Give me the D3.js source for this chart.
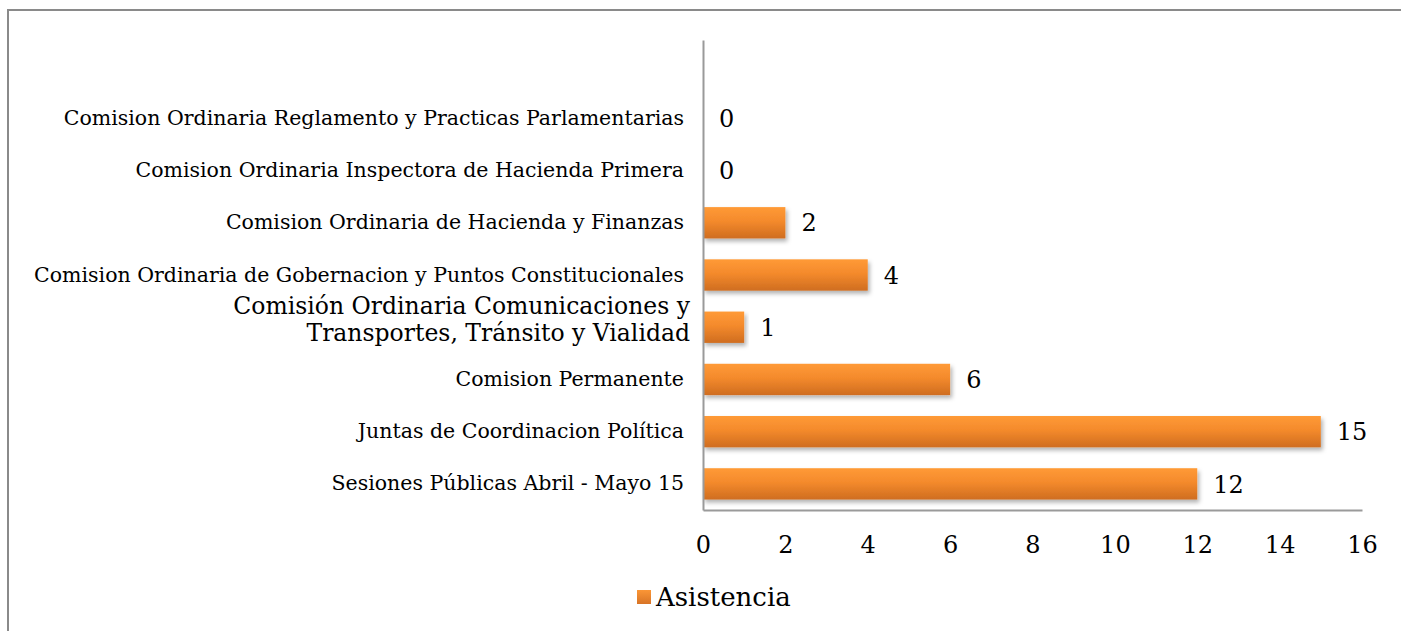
<!DOCTYPE html>
<html>
<head>
<meta charset="utf-8">
<script src="https://cdn.jsdelivr.net/npm/d3@7"></script>
<style>
  body { margin: 0; background: #fff; }
  svg { display: block; font-family: "DejaVu Serif", serif; }
</style>
</head>
<body>
<div id="chart"></div>
<script>
// top category is empty, the rest read top -> bottom
const categories = [
    "",
    "Comision Ordinaria Reglamento y Practicas Parlamentarias",
    "Comision Ordinaria Inspectora de Hacienda Primera",
    "Comision Ordinaria de Hacienda y Finanzas",
    "Comision Ordinaria de Gobernacion y Puntos Constitucionales",
    "Comisión Ordinaria Comunicaciones y Transportes, Tránsito y Vialidad",
    "Comision Permanente",
    "Juntas de Coordinacion Política",
    "Sesiones Públicas Abril - Mayo 15"
];
const asistencia = [null, 0, 0, 2, 4, 1, 6, 15, 12];
const xTicks = [0, 2, 4, 6, 8, 10, 12, 14, 16];
const seriesName = "Asistencia";

const width = 1401, height = 631;
const plot = { left: 703, right: 1362, top: 40, bottom: 510 };

const svg = d3.select("#chart").append("svg")
    .attr("width", width)
    .attr("height", height);

const defs = svg.append("defs");
const grad = defs.append("linearGradient")
    .attr("id", "barGrad")
    .attr("x1", 0).attr("y1", 0).attr("x2", 0).attr("y2", 1);
grad.append("stop").attr("offset", "0%").attr("stop-color", "#ff9a36");
grad.append("stop").attr("offset", "45%").attr("stop-color", "#f48a2c");
grad.append("stop").attr("offset", "100%").attr("stop-color", "#cf6d20");

const legGrad = defs.append("linearGradient")
    .attr("id", "legGrad")
    .attr("x1", 0).attr("y1", 0).attr("x2", 0).attr("y2", 1);
legGrad.append("stop").attr("offset", "0%").attr("stop-color", "#fb9636");
legGrad.append("stop").attr("offset", "100%").attr("stop-color", "#d87426");

defs.append("filter")
    .attr("id", "shadow")
    .attr("x", "-5%").attr("y", "-20%").attr("width", "115%").attr("height", "160%")
    .append("feDropShadow")
    .attr("dx", 2).attr("dy", 3)
    .attr("stdDeviation", 2)
    .attr("flood-color", "#000")
    .attr("flood-opacity", 0.3);

// outer chart border (runs off the right / bottom of the picture)
svg.append("path")
    .attr("d", `M8,${height + 5}V10H${width + 5}`)
    .attr("fill", "none")
    .attr("stroke", "#8a8a8a")
    .attr("stroke-width", 2);

const xScale = d3.scaleLinear()
    .domain([0, 16])
    .range([plot.left, plot.right]);

const yScale = d3.scaleBand()
    .domain(categories)
    .range([plot.top, plot.bottom])
    .paddingInner(0.4)
    .paddingOuter(0.2);

// bars
svg.append("g")
    .selectAll("rect")
    .data(categories.map((c, i) => ({ cat: c, v: asistencia[i] })).filter(d => d.v > 0))
    .enter().append("rect")
    .attr("x", xScale(0))
    .attr("y", d => yScale(d.cat))
    .attr("width", d => xScale(d.v) - xScale(0))
    .attr("height", yScale.bandwidth())
    .attr("fill", "url(#barGrad)")
    .attr("filter", "url(#shadow)");

// y axis
const yAxis = svg.append("g")
    .attr("transform", `translate(${plot.left},0)`)
    .call(d3.axisLeft(yScale).tickSize(0).tickPadding(19).tickSizeOuter(0));
yAxis.select(".domain").attr("stroke", "#9a9a9a").attr("stroke-width", 2);
yAxis.selectAll("text")
    .attr("font-family", "DejaVu Serif")
    .attr("font-size", 20.5)
    .attr("fill", "#000");

// the long category wraps onto two lines in a bigger font
yAxis.selectAll(".tick text")
    .filter(d => d.length > 60)
    .each(function(d) {
        const t = d3.select(this);
        const parts = ["Comisión Ordinaria Comunicaciones y", "Transportes, Tránsito y Vialidad"];
        t.text(null).attr("font-size", 23.5).attr("x", -13).attr("dy", null);
        t.append("tspan").attr("x", -13).attr("dy", "-0.57em").text(parts[0]);
        t.append("tspan").attr("x", -13).attr("dy", "1.15em").text(parts[1]);
    });

// x axis
const xAxis = svg.append("g")
    .attr("transform", `translate(0,${plot.bottom})`)
    .call(d3.axisBottom(xScale).tickValues(xTicks).tickSize(0).tickPadding(26).tickSizeOuter(0));
xAxis.select(".domain").attr("stroke", "#9a9a9a").attr("stroke-width", 2);
xAxis.selectAll("text")
    .attr("font-family", "DejaVu Serif")
    .attr("font-size", 24)
    .attr("fill", "#000");

// value labels
svg.append("g")
    .selectAll("text")
    .data(categories.map((c, i) => ({ cat: c, v: asistencia[i] })).filter(d => d.v !== null))
    .enter().append("text")
    .attr("x", d => xScale(d.v) + 16)
    .attr("y", d => yScale(d.cat) + yScale.bandwidth() / 2)
    .attr("dy", "0.36em")
    .attr("font-size", 24)
    .attr("fill", "#000")
    .text(d => d.v);

// legend
const legend = svg.append("g").attr("transform", "translate(637,590)");
legend.append("rect")
    .attr("width", 14).attr("height", 14)
    .attr("fill", "url(#legGrad)");
legend.append("text")
    .attr("x", 19).attr("y", 7)
    .attr("dy", "0.36em")
    .attr("font-size", 26)
    .attr("fill", "#000")
    .text(seriesName);
</script>
</body>
</html>
